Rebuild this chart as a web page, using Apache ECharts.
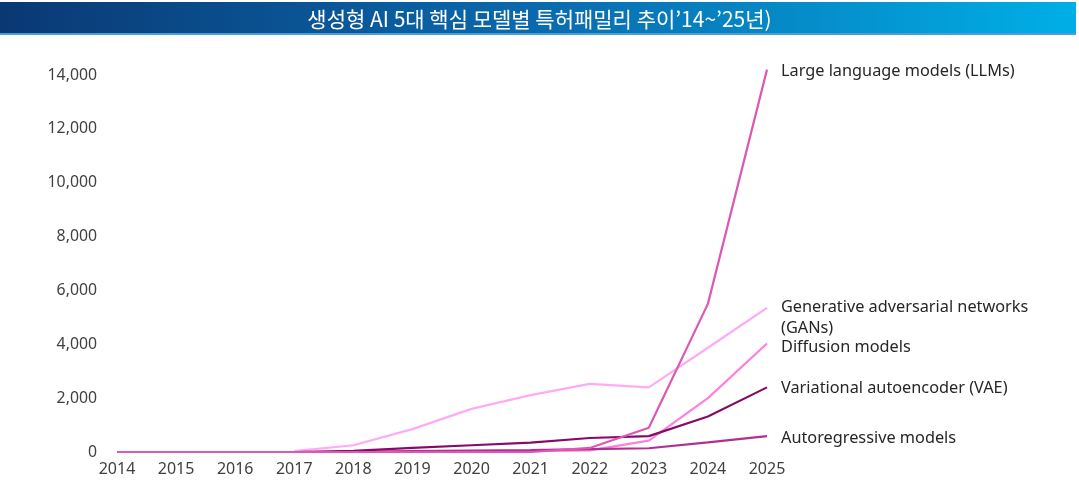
<!DOCTYPE html>
<html>
<head>
<meta charset="utf-8">
<script src="https://cdn.jsdelivr.net/npm/echarts@6/dist/echarts.min.js"></script>
<style>
html, body { margin: 0; padding: 0; background: #fff; }
#main { width: 1079px; height: 481px; }
</style>
</head>
<body>
<div id="main"></div>
<script>
// 연도
var years = ['2014', '2015', '2016', '2017', '2018', '2019', '2020', '2021', '2022', '2023', '2024', '2025'];
// 모델별 특허패밀리 수
var llmData = [0, 0, 0, 0, 0, 0, 0, 0, 150, 900, 5500, 14200];
var ganData = [null, null, null, 30, 250, 850, 1600, 2110, 2530, 2400, 3870, 5350];
var diffusionData = [0, 0, 0, 0, 0, 10, 20, 30, 60, 420, 2000, 4030];
var vaeData = [null, null, null, 0, 40, 150, 250, 350, 520, 590, 1320, 2400];
var autoregData = [null, null, null, 0, 10, 30, 50, 70, 110, 140, 360, 590];
var seriesNames = ['Large language models (LLMs)', 'Generative adversarial networks\n(GANs)', 'Diffusion models', 'Variational autoencoder (VAE)', 'Autoregressive models'];
var yTicks = [0, 2000, 4000, 6000, 8000, 10000, 12000, 14000];

var chart = echarts.init(document.getElementById('main'));

function makeLine(name, data, color, offsetY) {
	return {
		name: name,
		type: 'line',
		data: data,
		symbol: 'none',
		clip: false,
		lineStyle: { color: color, width: 2.2 },
		itemStyle: { color: color },
		endLabel: {
			show: true,
			formatter: '{a}',
			distance: 14,
			offset: [0, offsetY || 0],
			color: '#262626',
			fontFamily: 'Noto Sans',
			fontSize: 16.3,
			lineHeight: 21
		}
	};
}

var option = {
	animation: false,
	textStyle: { fontFamily: 'Noto Sans' },
	graphic: [{
		type: 'rect',
		left: 0,
		top: 2,
		shape: { width: 1076, height: 31 },
		style: {
			fill: new echarts.graphic.LinearGradient(0, 0, 1, 0, [
				{ offset: 0, color: '#0a3873' },
				{ offset: 0.5, color: '#0a6aae' },
				{ offset: 1, color: '#00afe6' }
			])
		},
		z: 0
	}, {
		type: 'rect',
		left: 0,
		top: 33,
		shape: { width: 1076, height: 2 },
		style: { fill: '#4a9fd6' },
		z: 0
	}],
	title: {
		text: '생성형 AI 5대 핵심 모델별 특허패밀리 추이’14~’25년)',
		left: 'center',
		top: 4,
		textStyle: {
			color: '#ffffff',
			fontFamily: 'Noto Sans CJK KR',
			fontWeight: 'normal',
			fontSize: 21
		}
	},
	grid: {
		left: 117,
		right: 312,
		top: 75,
		bottom: 29
	},
	xAxis: {
		type: 'category',
		boundaryGap: false,
		data: years,
		axisLine: { show: false },
		axisTick: { show: false },
		axisLabel: { color: '#404040', fontSize: 16, margin: 9 }
	},
	yAxis: {
		type: 'value',
		min: 0,
		max: yTicks[yTicks.length - 1],
		interval: 2000,
		splitLine: { show: false },
		axisLine: { show: false },
		axisTick: { show: false },
		axisLabel: {
			color: '#404040',
			fontSize: 15.8,
			margin: 20,
			formatter: function (v) { return v.toLocaleString('en-US'); }
		}
	},
	series: [
		makeLine(seriesNames[1], ganData, '#ffaaf6', 10),
		makeLine(seriesNames[2], diffusionData, '#ff80da', 4),
		makeLine(seriesNames[4], autoregData, '#b0308f', 2),
		makeLine(seriesNames[3], vaeData, '#880a68', 1),
		makeLine(seriesNames[0], llmData, '#db58b5', 2)
	]
};
chart.setOption(option);
</script>
</body>
</html>
